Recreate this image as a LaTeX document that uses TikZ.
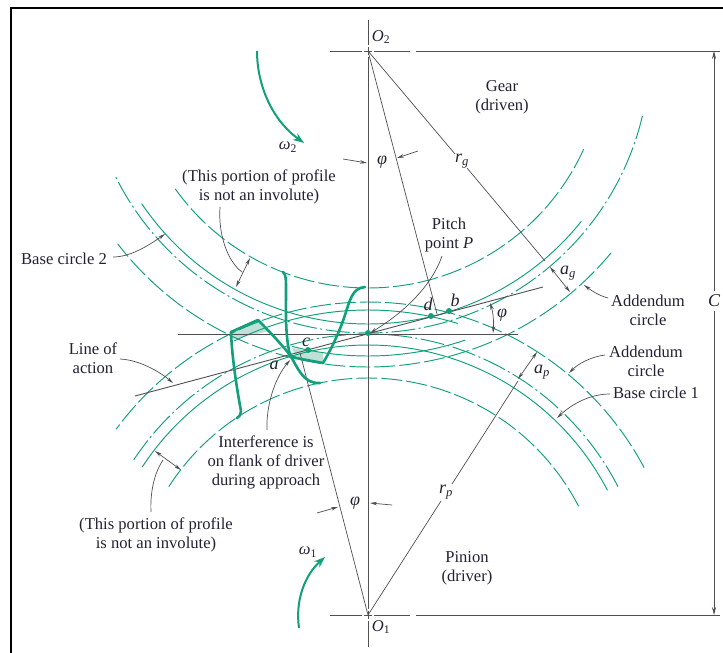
\documentclass[tikz,border=0pt]{standalone}
\usepackage{fontspec}
\setmainfont{Liberation Serif}
\usetikzlibrary{arrows.meta}
\definecolor{gr}{HTML}{12A07C}
\definecolor{grfill}{HTML}{BFE0D6}
\definecolor{ink}{HTML}{222233}
\definecolor{ln}{HTML}{505050}
\newcommand{\carc}[6]{\draw[#6] plot[domain=#4:#5,samples=120,variable=\t] ({#1+#3*cos(\t)},{#2+#3*sin(\t)});}
\newcommand{\subs}[1]{\textsubscript{#1}}
\tikzset{
 x=1pt,y=-1pt,
 thin line/.style={draw=ln,line width=0.7pt},
 axisline/.style={draw=ln,line width=1pt},
 frameline/.style={draw=black,line width=2.2pt},
 lead/.style={draw=ln,line width=0.7pt,-{Stealth[length=7pt,width=3.5pt]}},
 twoway/.style={draw=ln,line width=0.7pt,{Stealth[length=7pt,width=3.5pt]}-{Stealth[length=7pt,width=3.5pt]}},
 solidc/.style={draw=gr,line width=0.95pt},
 longd/.style={draw=gr,line width=0.95pt,dash pattern=on 21pt off 4pt},
 dashdot/.style={draw=gr,line width=0.95pt,dash pattern=on 24pt off 3.5pt on 2pt off 3.5pt},
 thick tooth/.style={draw=gr,line width=2.6pt,line join=round,line cap=round},
 omega/.style={draw=gr,line width=2pt,-{Stealth[length=11pt,width=8pt]}},
 pt/.style={circle,fill=gr,inner sep=0pt,minimum size=6pt},
 txt/.style={text=ink,font=\fontsize{16.6}{19}\selectfont,inner sep=0pt,align=center},
 sym/.style={text=ink,font=\fontsize{18}{19}\selectfont\itshape,inner sep=0pt},
}
\begin{document}
\begin{tikzpicture}
\useasboundingbox (0,0) rectangle (723,653);
\fill[white] (0,0) rectangle (723,653);
% frame
\coordinate (fa) at (11,653); \coordinate (fb) at (11,8); \coordinate (fc) at (723,8);
\draw[frameline] (fa) -- (fb) -- (fc);
% centres
\coordinate (O2) at (368,51);
\coordinate (O1) at (368,615);
\coordinate (P) at (368,333);
% shading
\fill[grfill] (231,332) -- (258,320) -- (270,331) -- (233,339) -- cycle;
\fill[grfill] (292,348) -- (323,353) -- (323,363) -- (296,357) -- cycle;
% gear circles
\carc{368}{51}{237}{24.5}{144.6}{longd}
\carc{368}{51}{273}{38.6}{146}{solidc}
\carc{368}{51}{282}{13.3}{153.8}{dashdot}
\carc{368}{51}{316}{39.7}{142.4}{longd}
\carc{368}{51}{305}{71.4}{104.4}{solidc}
% pinion circles
\carc{368}{615}{237}{-27.3}{-147.2}{longd}
\carc{368}{615}{270}{-27.5}{-146.8}{solidc}
\carc{368}{615}{281}{-27.2}{-146.6}{dashdot}
\carc{368}{615}{313}{-28.1}{-143.6}{longd}
\carc{368}{615}{305}{-72.9}{-116}{solidc}
% axes
\foreach \a/\b in {20/45,47/55,57/609,611/619,621/647}{\draw[axisline] (368,\a) -- (368,\b);}
\foreach \a/\b in {330/362,364/372,374/410,416/720}{\draw[axisline] (\a,51) -- (\b,51); \draw[axisline] (\a,615) -- (\b,615);}
\coordinate (ha) at (178,334); \coordinate (hb) at (518,334);
\draw[thin line] (ha) -- (hb);
% line of action
\coordinate (la) at (135,396); \coordinate (lb) at (543,287);
\draw[thin line,line width=0.9pt] (la) -- (lb);
% radial lines
\coordinate (d1) at (437,314);
\draw[thin line] (O2) -- (d1);
\coordinate (c1) at (300,353);
\draw[thin line] (O1) -- (c1);
\coordinate (rg1) at (455,154); \coordinate (rg2) at (467,168); \coordinate (rg3) at (545,261);
\draw[thin line] (O2) -- (rg1) (rg2) -- (rg3);
\coordinate (rp1) at (441,501); \coordinate (rp2) at (452,484); \coordinate (rp3) at (518,381);
\draw[thin line] (O1) -- (rp1) (rp2) -- (rp3);
% teeth
\draw[thick tooth] (283,272) .. controls (286,274) and (286,280) .. (286,290) .. controls (286,310) and (285,335) .. (290,355) -- (296,358) -- (323,363) .. controls (331,350) and (340,330) .. (344,318) .. controls (350,300) and (352,288) .. (365,287);
\draw[thick tooth] (237,418) .. controls (240,416) and (241,414) .. (241,411) .. controls (238,395) and (232,360) .. (231,332) -- (258,320) .. controls (270,332) and (282,345) .. (290,355) .. controls (298,368) and (303,384) .. (320,383);
% points
\node[pt] (Pd) at (P) {};
\node[pt] (ptb) at (449,311) {};
\node[pt] (ptd) at (431,316) {};
\node[pt] (ptc) at (308,350) {};
\node[pt,minimum size=4pt] (pta) at (290,355) {};
% dimension C
\coordinate (Cu) at (714,51); \coordinate (Cl) at (714,615);
\node[sym] (Clab) at (714,301) {C};
\draw[thin line,{Stealth[length=8pt,width=4pt]}-] (Cu) -- (714,291);
\draw[thin line,-{Stealth[length=8pt,width=4pt]}] (714,311) -- (Cl);
% ag ap
\coordinate (ag1) at (550,267); \coordinate (ag2) at (570,292);
\draw[twoway] (ag1) -- (ag2);
\coordinate (ap1) at (518,379); \coordinate (ap2) at (537,352);
\draw[twoway] (ap1) -- (ap2);
% involute dims
\coordinate (iu1) at (250,258); \coordinate (iu2) at (236,287);
\draw[twoway] (iu1) -- (iu2);
\coordinate (il1) at (155,451); \coordinate (il2) at (181,470);
\draw[twoway] (il1) -- (il2);
% phi right
\coordinate (pr1) at (490,303); \coordinate (pr2) at (493,333);
\draw[twoway] (pr1) .. controls (493,312) and (494,322) .. (pr2);
% phi markers
\coordinate (pa1) at (343,159); \coordinate (pa2) at (367,163);
\draw[lead] (pa1) -- (pa2);
\coordinate (pb1) at (418,151); \coordinate (pb2) at (397,158);
\draw[lead] (pb1) -- (pb2);
\coordinate (pc1) at (317,513); \coordinate (pc2) at (338,507);
\draw[lead] (pc1) -- (pc2);
\coordinate (pd1) at (392,505); \coordinate (pd2) at (370,503);
\draw[lead] (pd1) -- (pd2);
% omega arrows
\coordinate (w2a) at (257,51); \coordinate (w2b) at (304,143);
\draw[omega] (w2a) .. controls (257,85) and (272,120) .. (w2b);
\coordinate (w1a) at (299,628); \coordinate (w1b) at (325,557);
\draw[omega] (w1a) .. controls (295,600) and (305,575) .. (w1b);
% labels
\node[txt] (lO2) at (381,37) {\textit{O}\subs{2}};
\node[txt] (lO1) at (381,627) {\textit{O}\subs{1}};
\node[txt] (lgear) at (502,97) {Gear\\(driven)};
\node[txt] (lw2) at (288,147) {\textit{ω}\subs{2}};
\node[txt] (lw1) at (308,552) {\textit{ω}\subs{1}};
\node[txt] (linv1) at (259,187) {(This portion of profile\\is not an involute)};
\node[txt] (lpitch) at (449,235) {Pitch\\point \textit{P}};
\node[txt] (lbase2) at (64,259) {Base circle 2};
\node[txt] (lact) at (93,358) {Line of\\action};
\node[sym] (la) at (274,365) {a};
\node[sym] (lc) at (306,342) {c};
\node[sym] (ld) at (428,304) {d};
\node[sym] (lb) at (455,300) {b};
\node[sym] (lag) at (568,273) {a\subs{g}};
\node[sym] (lap) at (542,372) {a\subs{p}};
\node[txt] (ladd1) at (648,310) {Addendum\\circle};
\node[txt] (ladd2) at (646,361) {Addendum\\circle};
\node[txt] (lbase1) at (656,393) {Base circle 1};
\node[txt] (lint) at (266,462) {Interference is\\on flank of driver\\during approach};
\node[txt] (linv2) at (156,535) {(This portion of profile\\is not an involute)};
\node[sym] (lrp) at (446,492) {r\subs{p}};
\node[sym] (lrg) at (462,161) {r\subs{g}};
\node[txt] (lpin) at (467,568) {Pinion\\(driver)};
\node[sym] (ph1) at (382,162) {φ};
\node[sym] (ph2) at (355,503) {φ};
\node[sym] (ph3) at (502,315) {φ};
% leaders
\coordinate (t1) at (165,234);
\draw[lead] (113,257) .. controls (130,257) and (148,246) .. (t1);
\coordinate (t2) at (242,272);
\draw[thin line] (220,207) .. controls (218,235) and (228,262) .. (t2);
\coordinate (t3) at (163,460);
\draw[thin line] (151,512) .. controls (150,490) and (155,472) .. (t3);
\coordinate (t4) at (173,383);
\draw[lead] (120,359) .. controls (140,360) and (160,372) .. (t4);
\coordinate (t5) at (290,360);
\draw[lead] (267,430) .. controls (266,405) and (275,378) .. (t5);
\coordinate (t6) at (370,333);
\draw[lead] (442,256) .. controls (432,285) and (405,312) .. (t6);
\coordinate (t7) at (584,285);
\draw[lead] (608,298) .. controls (600,296) and (592,291) .. (t7);
\coordinate (t8) at (569,373);
\draw[lead] (605,355) .. controls (590,357) and (578,364) .. (t8);
\coordinate (t9) at (557,418);
\draw[lead] (610,394) .. controls (590,394) and (572,404) .. (t9);
\end{tikzpicture}
\end{document}
